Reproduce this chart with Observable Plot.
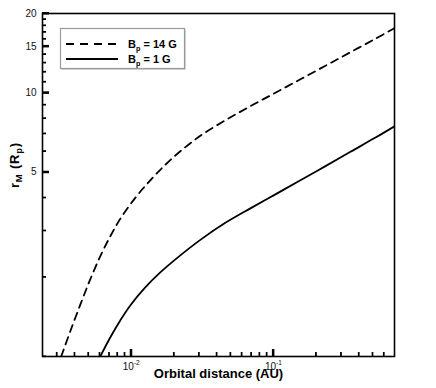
<!DOCTYPE html>
<html><head><meta charset="utf-8">
<script src="https://cdn.jsdelivr.net/npm/d3@7"></script>
<script src="https://cdn.jsdelivr.net/npm/@observablehq/plot@0.6"></script>
<style>
body{margin:0;background:#fff;}
#chart{width:436px;height:388px;}
</style></head><body><div id="chart"></div>
<script>
// Orbital distance (AU) and magnetospheric radius r_M (R_p)
const distance14 = [0.003214, 0.003719, 0.004373, 0.005143, 0.006048, 0.007113, 0.008365, 0.01067, 0.01361, 0.01735, 0.02214, 0.03062, 0.04592, 0.06887, 0.1033, 0.1549, 0.2324, 0.3485, 0.5228, 0.7112];
const rM14 = [1.0, 1.244, 1.569, 1.96, 2.397, 2.855, 3.327, 3.998, 4.658, 5.333, 6.003, 6.873, 7.87, 8.9, 10.01, 11.26, 12.67, 14.26, 16.05, 17.59];
const distance1 = [0.006048, 0.007113, 0.008365, 0.009839, 0.012547, 0.016001, 0.02214, 0.03062, 0.04592, 0.06887, 0.1033, 0.1549, 0.2324, 0.3485, 0.5228, 0.7112];
const rM1 = [1.0, 1.181, 1.37, 1.562, 1.828, 2.084, 2.418, 2.769, 3.213, 3.647, 4.121, 4.658, 5.274, 5.976, 6.767, 7.468];
const seriesNames = ["B_p = 14 G", "B_p = 1 G"];
const xMajorTicks = [0.01, 0.1];
const xMinorTicks = [0.003, 0.004, 0.005, 0.006, 0.007, 0.008, 0.009, 0.02, 0.03, 0.04, 0.05, 0.06, 0.07, 0.08, 0.09, 0.2, 0.3, 0.4, 0.5, 0.6];
const yMajorTicks = [5, 10, 15, 20];
const yMinorTicks = [1, 2, 3, 4, 6, 7, 8, 9, 11, 12, 13, 14, 16, 17, 18, 19];
const xLabel = "Orbital distance (AU)";
const yLabel = "r_M (R_p)";

const rows14 = distance14.map((d, i) => ({series: seriesNames[0], x: d, r: rM14[i]}));
const rows1 = distance1.map((d, i) => ({series: seriesNames[1], x: d, r: rM1[i]}));

const FONT = "'Liberation Sans', Arial, Helvetica, sans-serif";
const W = 436, H = 388, ML = 42, MR = 42, MT = 13, MB = 32;
const frameW = W - ML - MR, frameH = H - MT - MB;

const plot = Plot.plot({
  width: W, height: H,
  marginLeft: ML, marginRight: MR, marginTop: MT, marginBottom: MB,
  style: {fontFamily: FONT, fontSize: "10px", background: "#fff", color: "#000"},
  x: {type: "log", domain: [0.002374, 0.7112], axis: null},
  y: {type: "log", domain: [1, 20], axis: null},
  marks: [
    Plot.line(rows14, {x: "x", y: "r", stroke: "#000", strokeWidth: 1.8, strokeDasharray: "7.5,5.5", curve: "catmull-rom", clip: true}),
    Plot.line(rows1, {x: "x", y: "r", stroke: "#000", strokeWidth: 1.8, curve: "catmull-rom", clip: true}),
    Plot.frame({stroke: "#000", strokeWidth: 1.6}),
    // inward ticks
    Plot.tickX(xMajorTicks, {x: d => d, stroke: "#000", strokeWidth: 2, insetTop: frameH - 7}),
    Plot.tickX(xMinorTicks, {x: d => d, stroke: "#000", strokeWidth: 1.2, insetTop: frameH - 4}),
    Plot.tickY(yMajorTicks, {y: d => d, stroke: "#000", strokeWidth: 2, insetRight: frameW - 7}),
    Plot.tickY(yMinorTicks, {y: d => d, stroke: "#000", strokeWidth: 1.2, insetRight: frameW - 4}),
    // tick labels
    Plot.axisX(xMajorTicks, {tickSize: 0, tickPadding: 6, tickFormat: d => "10^" + Math.round(Math.log10(d)), label: null, fontSize: 10, fill: "#111"}),
    Plot.axisY(yMajorTicks, {tickSize: 0, tickPadding: 6, tickFormat: d => String(d), label: null, fontSize: 10, fill: "#111"}),
    Plot.text([xLabel], {frameAnchor: "bottom", dy: 21, fontWeight: "bold", fontSize: 13}),
    Plot.text([yLabel], {frameAnchor: "left", rotate: -90, dx: -28, dy: 3, fontWeight: "bold", fontSize: 13})
  ]
});
document.getElementById("chart").appendChild(plot);

// inward ticks again through the plot's own scales (drawn on top, guaranteed visible)
const svg = d3.select(plot);
const sx = plot.scale("x"), sy = plot.scale("y");
const bottom = H - MB, left = ML;
const tg = svg.append("g").attr("stroke", "#000").attr("fill", "none");
[[xMajorTicks, 7, 2], [xMinorTicks, 4, 1.2]].forEach(([ticks, len, sw]) => {
  ticks.forEach(v => {
    const px = sx.apply(v);
    tg.append("line").attr("x1", px).attr("x2", px).attr("y1", bottom).attr("y2", bottom - len).attr("stroke-width", sw);
  });
});
[[yMajorTicks, 7, 2], [yMinorTicks, 4, 1.2]].forEach(([ticks, len, sw]) => {
  ticks.forEach(v => {
    const py = sy.apply(v);
    tg.append("line").attr("x1", left).attr("x2", left + len).attr("y1", py).attr("y2", py).attr("stroke-width", sw);
  });
});

// rich text: _X -> subscript, ^-2 -> superscript
function richText(el, subScale = 0.65) {
  const s = el.textContent;
  if (!/[_^]/.test(s)) return;
  const fs = parseFloat(getComputedStyle(el).fontSize) || 10;
  const parts = [];
  const re = /_(\w)|\^(-?\d+)/g;
  let last = 0, m;
  while ((m = re.exec(s))) {
    if (m.index > last) parts.push({t: s.slice(last, m.index), k: 0});
    if (m[1] !== undefined) parts.push({t: m[1], k: 1});
    else parts.push({t: m[2], k: 2});
    last = re.lastIndex;
  }
  if (last < s.length) parts.push({t: s.slice(last), k: 0});
  while (el.firstChild) el.removeChild(el.firstChild);
  let shift = 0;
  for (const p of parts) {
    const ts = document.createElementNS("http://www.w3.org/2000/svg", "tspan");
    let target = 0;
    if (p.k === 1) { target = fs * 0.28; ts.setAttribute("font-size", (fs * subScale).toFixed(1)); }
    else if (p.k === 2) { target = -fs * 0.42; ts.setAttribute("font-size", (fs * 0.65).toFixed(1)); }
    const d = target - shift;
    if (d !== 0) ts.setAttribute("dy", d.toFixed(2));
    shift = target;
    ts.textContent = p.t;
    el.appendChild(ts);
  }
}
svg.selectAll("text").each(function() {
  if (this.textContent === yLabel) {
    this.setAttribute("letter-spacing", "0.8");
    richText(this, 0.72);
  } else richText(this);
});

// legend
const lg = svg.append("g").attr("font-family", FONT).attr("font-size", 11).attr("font-weight", "bold").attr("text-anchor", "start");
lg.append("rect").attr("x", 61.5).attr("y", 29.5).attr("width", 124).attr("height", 40).attr("fill", "#aaa");
lg.append("rect").attr("x", 60.5).attr("y", 28.5).attr("width", 124).attr("height", 40)
  .attr("fill", "#fff").attr("stroke", "#999").attr("stroke-width", 1.2);
const dashes = ["8,6", null];
seriesNames.forEach((name, i) => {
  const yy = 44 + i * 15;
  const ln = lg.append("line").attr("x1", 66).attr("x2", 118).attr("y1", yy).attr("y2", yy)
    .attr("stroke", "#000").attr("stroke-width", 1.8);
  if (dashes[i]) ln.attr("stroke-dasharray", dashes[i]);
  const t = lg.append("text").attr("x", 128).attr("y", yy + 4).attr("fill", "#000").text(name);
  richText(t.node());
});
</script>
</body></html>
